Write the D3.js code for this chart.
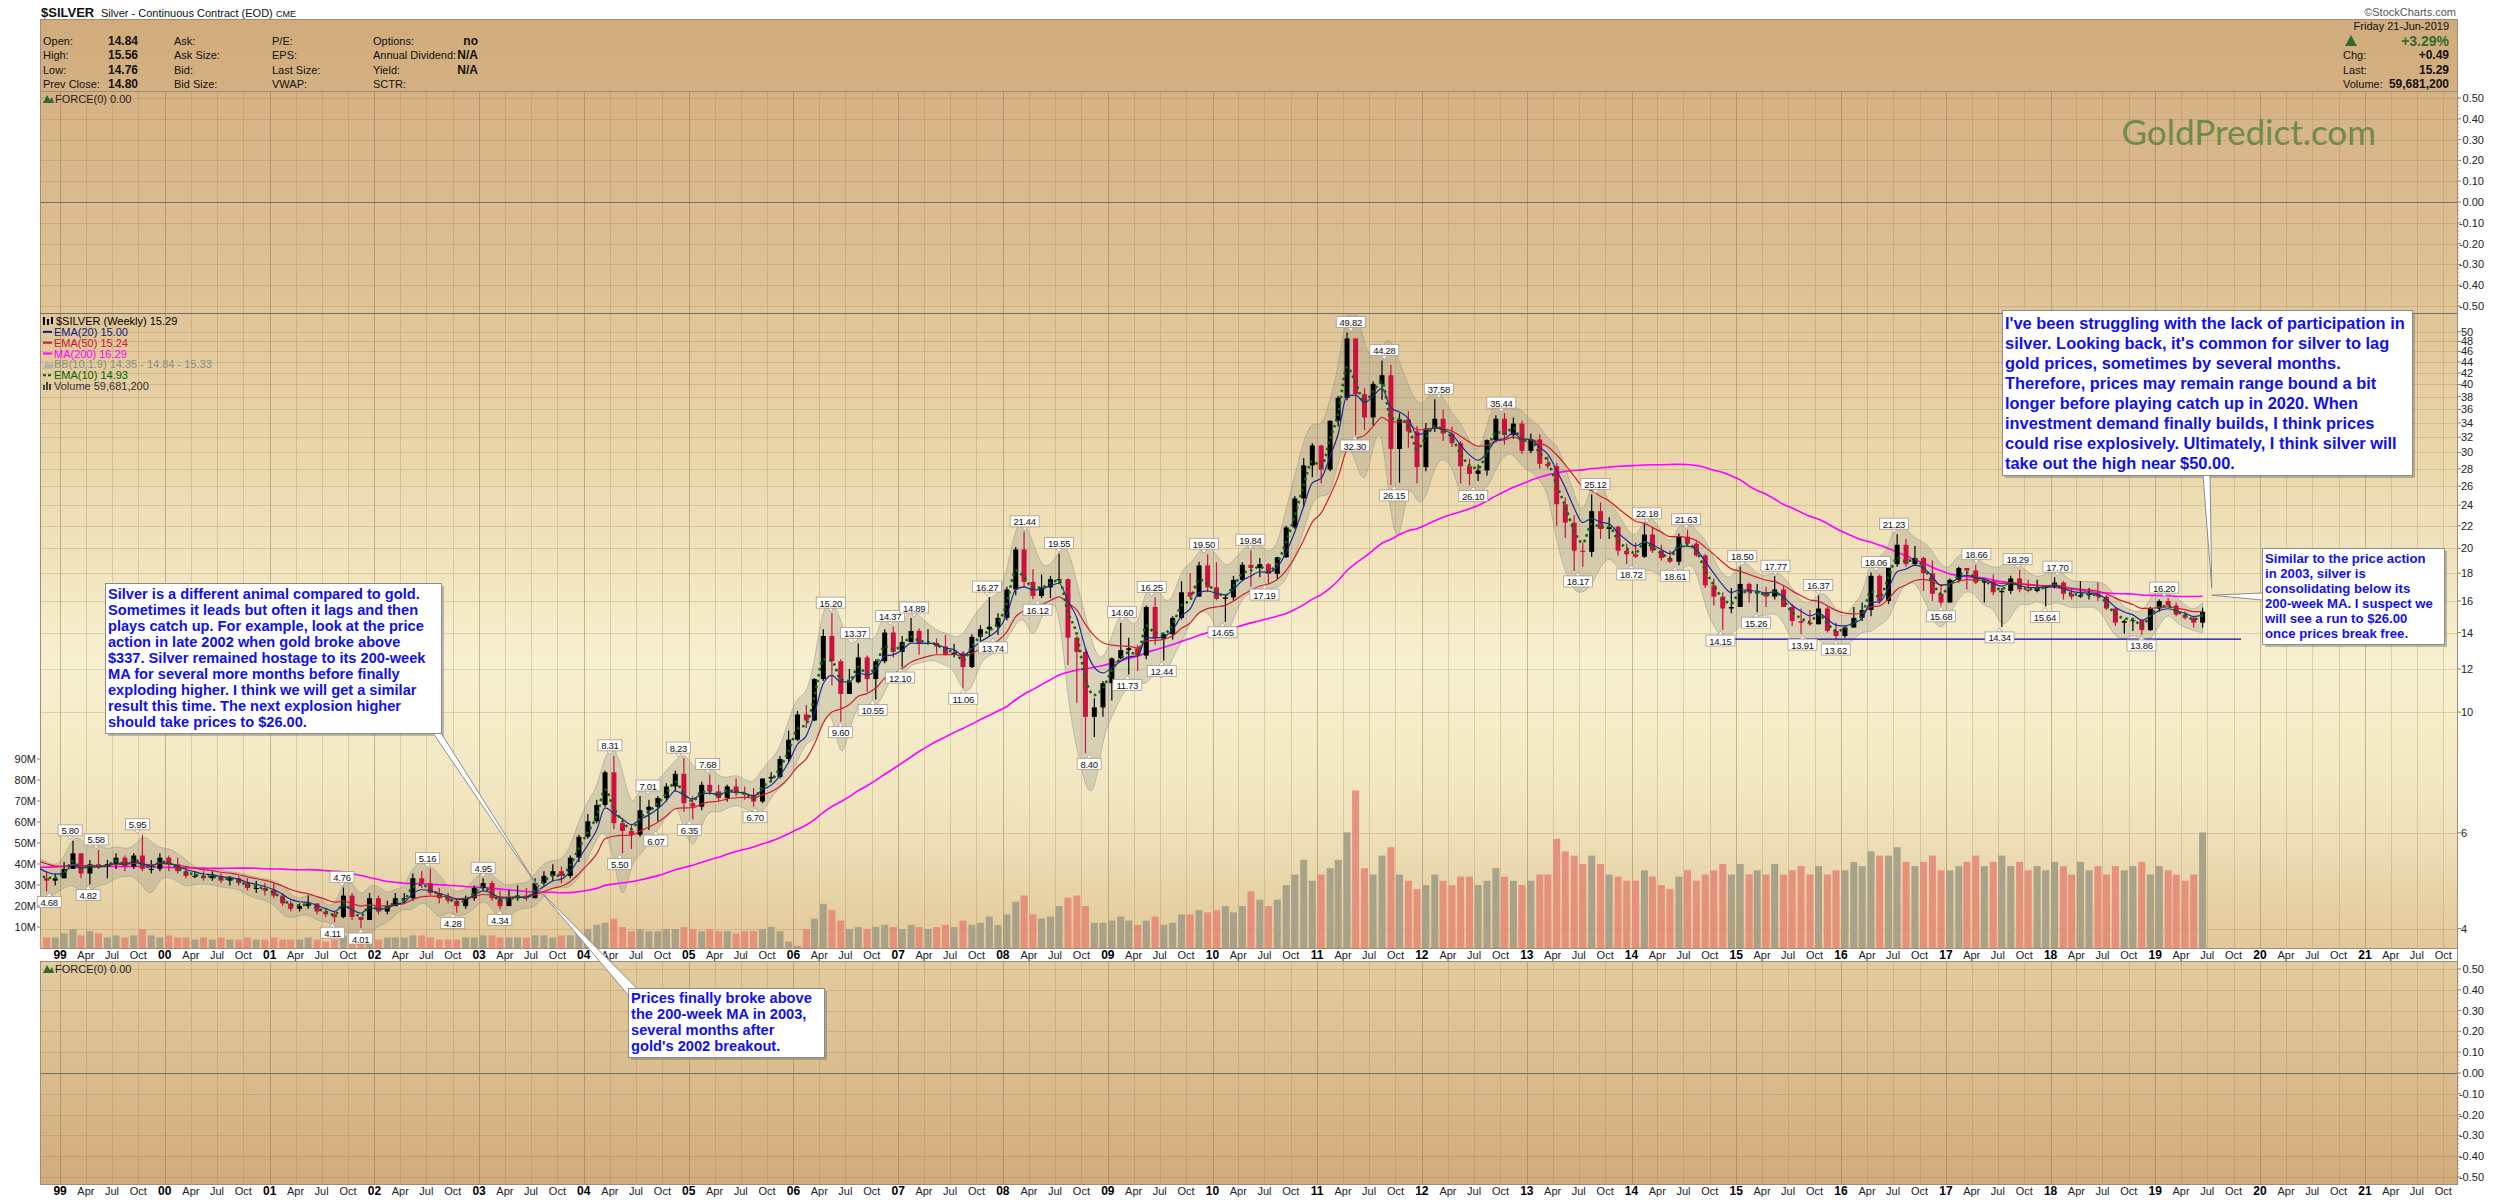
<!DOCTYPE html>
<html><head><meta charset="utf-8">
<script src="https://cdn.jsdelivr.net/npm/d3@7"></script>
<style>body{margin:0;background:#fff}svg{display:block;font-family:"Liberation Sans",Arial,sans-serif}</style>
</head><body><svg id="c" width="2500" height="1200"></svg>
<script>
// ---------------- DATA (monthly) ----------------
const warmupStart = "1995-01";           // closes used only to seed the moving averages
const warmupCloses = [
 4.76,4.63,4.55,5.56,5.25,5.04,5.16,5.37,5.40,5.34,5.33,5.17,
 5.58,5.55,5.52,5.39,5.32,5.09,5.05,5.17,4.94,4.80,4.80,4.78,
 4.77,5.20,4.85,4.67,4.74,4.60,4.34,4.56,5.00,4.80,5.20,5.95,
 5.95,6.50,6.30,6.25,5.30,5.45,5.30,4.95,5.25];
const firstMonth = "1998-10";
const highs = [
 5.30,5.10,5.05,
 5.30,5.80,5.50,5.35,5.58,5.35,5.50,5.45,5.50,5.95,5.35,5.50,
 5.45,5.40,5.20,5.10,5.10,5.10,5.05,5.00,5.00,4.95,4.90,4.85,
 4.85,4.65,4.50,4.45,4.60,4.45,4.35,4.30,4.76,4.65,4.20,4.65,
 4.60,4.50,4.65,4.65,5.05,5.10,5.16,4.75,4.65,4.55,4.60,4.80,
 4.95,4.90,4.70,4.70,4.80,4.75,4.95,5.10,5.25,5.20,5.45,5.95,
 6.50,6.90,7.80,8.31,6.40,6.20,7.01,6.90,7.00,7.40,7.80,8.23,
 7.00,7.45,7.68,7.35,7.35,7.55,7.30,7.25,7.55,7.75,8.30,9.25,
 10.05,10.30,11.55,14.20,15.20,12.50,12.00,13.37,12.70,12.50,14.20,14.37,
 13.80,14.89,14.25,14.20,13.65,13.85,13.35,12.95,13.90,14.45,16.27,15.20,
 17.00,20.10,21.44,18.30,17.90,17.80,19.55,17.60,13.80,13.10,10.60,11.40,
 12.60,14.60,13.70,13.30,15.70,16.25,14.00,15.00,17.40,18.00,18.90,19.50,
 18.85,16.40,17.80,18.85,19.84,19.20,18.80,19.30,22.00,24.95,29.30,31.20,
 31.00,34.40,38.10,49.82,48.60,39.40,40.50,44.28,43.50,35.40,35.70,33.60,
 34.00,37.58,35.90,33.50,31.50,29.20,28.50,31.70,35.10,35.44,34.80,34.30,
 32.50,32.40,29.50,28.70,24.80,23.00,20.50,25.12,24.30,22.80,22.00,20.40,
 20.50,22.18,21.90,20.30,19.80,21.30,21.63,20.60,19.50,17.60,16.60,16.90,
 18.50,17.30,17.20,17.00,17.77,17.10,15.80,15.50,15.40,16.37,15.60,14.60,
 14.40,15.60,15.90,18.06,17.90,18.80,21.23,20.80,20.20,19.30,19.00,17.20,
 17.60,18.50,18.40,18.66,17.50,17.90,16.90,17.80,18.29,17.50,17.50,17.10,
 17.70,17.40,16.90,17.40,16.90,17.30,16.40,15.60,14.80,14.90,14.75,15.60,
 16.10,16.20,15.90,15.30,15.00,15.56];
const lows = [
 4.80,4.68,4.80,
 4.95,5.15,4.95,4.82,5.15,4.95,5.15,5.10,5.15,5.10,5.05,5.10,
 5.10,5.05,4.95,4.95,4.90,4.90,4.85,4.80,4.80,4.70,4.65,4.60,
 4.55,4.40,4.30,4.30,4.35,4.25,4.20,4.11,4.18,4.15,4.01,4.15,
 4.25,4.25,4.40,4.45,4.50,4.75,4.60,4.45,4.45,4.28,4.35,4.50,
 4.70,4.50,4.34,4.40,4.50,4.50,4.55,4.80,4.90,4.85,4.95,5.30,
 5.85,6.25,6.70,6.10,5.50,5.60,5.90,6.07,6.30,6.85,7.15,6.55,
 6.35,6.60,7.05,6.85,6.85,7.00,6.90,6.70,6.80,7.45,7.55,8.10,
 8.85,9.35,9.62,11.40,11.20,9.60,10.80,11.30,10.90,10.55,12.30,12.60,
 12.10,13.45,12.75,13.30,12.80,12.70,12.60,11.06,12.05,13.40,13.74,13.85,
 14.75,16.40,16.90,16.12,16.20,16.20,17.20,12.20,10.40,8.40,9.00,9.80,
 10.50,12.50,11.73,11.90,12.50,13.30,12.44,13.60,14.80,16.20,16.30,16.60,
 16.05,14.65,16.00,17.40,17.00,17.70,17.19,17.50,19.20,21.70,23.90,27.00,
 26.30,27.70,33.50,37.40,32.30,33.00,33.60,37.50,26.15,26.40,30.60,26.30,
 27.70,32.70,31.50,30.70,26.30,26.10,26.60,27.20,31.30,31.00,31.80,29.80,
 29.90,28.00,28.00,22.00,20.90,18.17,18.50,19.30,20.80,20.80,19.40,18.72,
 19.20,19.20,19.60,19.00,18.80,18.61,20.20,19.30,16.90,15.70,14.15,15.20,
 15.60,15.90,15.26,15.60,16.10,15.60,14.40,13.91,14.40,14.50,14.00,13.62,
 13.70,14.30,14.70,15.00,15.80,15.80,18.50,18.50,18.60,16.70,16.00,15.68,
 15.90,17.30,16.80,17.20,15.90,16.40,14.34,16.50,16.60,16.60,16.60,15.64,
 16.90,16.10,16.10,16.20,16.10,16.00,15.40,14.40,13.95,14.10,13.86,14.10,
 15.30,15.70,15.00,14.80,14.30,14.30];
const closes = [
 4.95,4.90,4.95,
 5.15,5.50,5.05,5.25,5.20,5.25,5.40,5.20,5.45,5.15,5.15,5.40,
 5.25,5.10,5.00,5.00,4.95,5.00,4.90,4.95,4.85,4.75,4.75,4.70,
 4.60,4.45,4.35,4.40,4.45,4.30,4.25,4.20,4.60,4.20,4.15,4.55,
 4.30,4.40,4.55,4.55,4.95,4.85,4.65,4.55,4.50,4.40,4.55,4.75,
 4.85,4.55,4.40,4.55,4.60,4.55,4.85,5.00,5.10,5.00,5.40,5.90,
 6.30,6.75,7.75,6.25,6.05,5.95,6.60,6.70,6.95,7.30,7.70,6.80,
 6.70,7.35,7.15,6.95,7.30,7.10,7.05,6.85,7.55,7.60,8.20,8.90,
 9.90,9.65,11.50,13.80,12.40,10.80,11.35,12.60,11.50,12.40,14.00,12.90,
 13.45,14.10,13.35,13.40,13.20,12.75,12.85,12.10,13.75,14.20,14.35,14.90,
 16.80,19.90,17.35,16.35,16.95,17.55,17.55,13.70,12.90,9.80,10.20,11.30,
 12.55,13.00,13.10,12.70,15.60,13.65,13.90,14.90,16.60,16.30,18.60,16.95,
 16.15,16.25,17.50,18.65,18.40,18.70,17.95,19.25,21.85,24.70,28.40,30.90,
 27.90,34.30,37.80,48.60,38.40,34.80,40.10,41.60,30.45,34.50,32.80,28.20,
 33.20,34.60,32.50,31.20,28.30,27.40,27.80,31.60,34.60,32.30,33.90,30.20,
 31.70,28.60,28.30,24.10,22.30,19.80,19.70,23.40,21.70,21.90,19.80,19.50,
 19.30,21.20,19.80,19.20,18.90,21.00,20.40,19.40,17.10,16.30,15.50,15.60,
 17.20,16.60,16.60,16.30,16.80,15.60,14.70,14.60,14.50,15.50,14.10,13.80,
 14.30,14.90,15.40,17.80,16.00,18.70,20.30,18.70,19.20,18.00,16.50,15.90,
 17.50,18.40,18.20,17.30,17.40,16.60,16.70,17.60,16.80,16.70,16.90,17.00,
 17.30,16.50,16.30,16.40,16.50,16.30,15.50,14.60,14.70,14.75,14.15,15.50,
 16.00,15.70,15.10,14.90,14.60,15.29];
// typical weekly volume in each month, millions
const volumesM = [
 6,5,5,
 7,9,6,8,7,5,6,5,6,9,6,5,
 6,5,5,4,5,4,5,4,4,5,4,4,
 5,4,4,4,5,4,3,4,6,5,4,5,
 4,5,5,5,6,6,5,4,4,4,5,5,
 6,6,5,5,5,5,6,6,5,6,6,7,
 9,11,12,14,10,8,9,8,8,9,9,10,
 9,8,9,8,8,7,8,8,9,10,8,3,
 1,9,14,21,18,13,9,10,9,10,11,10,
 9,11,10,9,10,11,10,13,11,12,15,11,
 16,22,25,16,14,15,20,24,25,20,12,12,
 13,15,13,11,13,15,11,12,16,16,18,17,
 18,20,17,20,27,23,20,23,30,35,42,32,
 35,38,42,55,75,38,35,44,48,35,32,28,
 30,35,32,30,34,34,30,32,38,34,32,30,
 32,35,35,52,46,44,40,44,40,35,34,32,
 32,37,34,30,28,34,37,32,35,37,40,35,
 40,35,37,35,40,35,37,39,35,39,35,37,
 37,41,39,46,44,44,48,41,39,41,44,37,
 37,39,41,44,39,41,44,39,41,37,39,37,
 41,39,35,41,37,39,35,39,37,39,41,35,
 39,37,35,32,35,55];
// price labels on swing highs (H) and lows (L)
const swingDates  = ["1998-11-24","1999-02-05","1999-04-09","1999-05-07","1999-09-28","2001-08-08","2001-09-10","2001-11-14","2002-07-05","2002-10-01","2003-01-15","2003-03-14",
 "2004-04-01","2004-05-05","2004-08-12","2004-09-08","2004-11-26","2005-01-03","2005-03-08","2005-08-20","2006-05-11","2006-06-14","2006-08-04","2006-10-04","2006-12-04",
 "2007-01-08","2007-02-26","2007-08-16","2007-11-07","2007-11-27","2008-03-17","2008-05-01","2008-07-15","2008-10-28","2009-02-20","2009-03-10","2009-06-03","2009-07-08",
 "2009-12-02","2010-02-05","2010-05-13","2010-07-01","2011-04-28","2011-05-12","2011-08-23","2011-09-26","2012-02-29","2012-06-28","2012-10-04","2013-06-28","2013-08-28",
 "2013-12-31","2014-02-24","2014-06-02","2014-07-10","2014-11-07","2015-01-22","2015-03-11","2015-05-18","2015-08-20","2015-10-14","2015-12-14","2016-05-02","2016-07-04",
 "2016-12-15","2017-04-17","2017-07-07","2017-09-08","2017-12-12","2018-01-25","2018-11-14","2019-02-01"];
const swingValues = [4.68,5.80,4.82,5.58,5.95,4.11,4.76,4.01,5.16,4.28,4.95,4.34,
 8.31,5.50,7.01,6.07,8.23,6.35,7.68,6.70,15.20,9.60,13.37,10.55,14.37,
 12.10,14.89,11.06,16.27,13.74,21.44,16.12,19.55,8.40,14.60,11.73,16.25,12.44,
 19.50,14.65,19.84,17.19,49.82,32.30,44.28,26.15,37.58,26.10,35.44,18.17,25.12,
 18.72,22.18,18.61,21.63,14.15,18.50,15.26,17.77,13.91,16.37,13.62,18.06,21.23,
 15.68,18.66,14.34,18.29,15.64,17.70,13.86,16.20];
const swingKinds  = ["L","H","L","H","H","L","H","L","H","L","H","L",
 "H","L","H","L","H","L","H","L","H","L","H","L","H",
 "L","H","L","H","L","H","L","H","L","H","L","H","L",
 "H","L","H","L","H","L","H","L","H","L","H","L","H",
 "L","H","L","H","L","H","L","H","L","H","L","H","H",
 "L","H","L","H","L","H","L","H"];
const supportLevel = 13.62, supportFrom = "2014-11-07", supportTo = "2019-10-27";
// tick values / labels
const priceTicks = [4,6,10,12,14,16,18,20,22,24,26,28,30,32,34,36,38,40,42,44,46,48,50];
const volumeTicks = [10,20,30,40,50,60,70,80,90];
const forceTicks = [0.5,0.4,0.3,0.2,0.1,0,-0.1,-0.2,-0.3,-0.4,-0.5];
const monthTickNames = ["Apr","Jul","Oct"];
const headerRows = [["Open:","14.84","Ask:","P/E:","Options:","no"],["High:","15.56","Ask Size:","EPS:","Annual Dividend:","N/A"],["Low:","14.76","Bid:","Last Size:","Yield:","N/A"],["Prev Close:","14.80","Bid Size:","VWAP:","SCTR:",""]];
const legendItems = [["$SILVER (Weekly) 15.29","#000"],["EMA(20) 15.00","#0c1a8a"],["EMA(50) 15.24","#d0103a"],["MA(200) 16.29","#ff00ff"],["BB(10,1.9) 14.35 - 14.84 - 15.33","#8a8e88"],["EMA(10) 14.93","#006400"],["Volume 59,681,200","#333"]];
const noteTopLeft = ["Silver is a different animal compared to gold.","Sometimes it leads but often it lags and then","plays catch up. For example, look at the price","action in late 2002 when gold broke above","$337. Silver remained hostage to its 200-week","MA for several more months before finally","exploding higher. I think we will get a similar","result this time. The next explosion higher","should take prices to $26.00."];
const noteBottom = ["Prices finally broke above","the 200-week MA in 2003,","several months after","gold's 2002 breakout."];
const noteRight = ["I've been struggling with the lack of participation in","silver. Looking back, it's common for silver to lag","gold prices, sometimes by several months.","Therefore, prices may remain range bound a bit","longer before playing catch up in 2020. When","investment demand finally builds, I think prices","could rise explosively. Ultimately, I think silver will","take out the high near $50.00."];
const noteRight2 = ["Similar to the price action","in 2003, silver is","consolidating below its","200-week MA. I suspect we","will see a run to $26.00","once prices break free."];

// ---------------- LAYOUT ----------------
const svg = d3.select('#c');
const L = 40, R = 2457, HEAD_T = 19, HEAD_B = 91, TOP_B = 313, MAIN_B = 948, AX1_B = 961, LOW_B = 1184, AX2_B = 1197;
const pd = d3.timeParse('%Y-%m-%d');
const [fy, fm] = firstMonth.split('-').map(Number);
const monthDate = i => new Date(fy, fm - 1 + i, 15);
const x = d3.scaleTime().domain([new Date(1998, 9, 23), new Date(2021, 10, 18)]).range([L, R]);
const y = d3.scaleLog().domain([3.685, 54.13]).range([MAIN_B, TOP_B]);
const yv = d3.scaleLinear().domain([0, 90]).range([MAIN_B, 759]);
const yfTop = d3.scaleLinear().domain([-0.5, 0.5]).range([306, 98]);
const yfLow = d3.scaleLinear().domain([-0.5, 0.5]).range([1177, 969]);

const defs = svg.append('defs');
function lg(id, stops) { const l = defs.append('linearGradient').attr('id', id).attr('x1', 0).attr('y1', 0).attr('x2', 0).attr('y2', 1); stops.forEach(([o, c]) => l.append('stop').attr('offset', o).attr('stop-color', c)); }
lg('gHead', [[0, '#D1AB7B'], [1, '#D4B182']]);
lg('gTop', [[0, '#D5B283'], [1, '#DFC597']]);
lg('gMain', [[0, '#DFC597'], [0.3, '#EDDDB2'], [0.55, '#F7F0D0'], [0.78, '#F1E5BF'], [1, '#E1C898']]);
lg('gLow', [[0, '#E3CC9F'], [1, '#D1AC7B']]);
defs.append('clipPath').attr('id', 'clipMain').append('rect').attr('x', L).attr('y', TOP_B).attr('width', R - L).attr('height', MAIN_B - TOP_B);

// panels
svg.append('rect').attr('x', L).attr('y', HEAD_T).attr('width', R - L).attr('height', HEAD_B - HEAD_T).attr('fill', 'url(#gHead)');
svg.append('rect').attr('x', L).attr('y', HEAD_B).attr('width', R - L).attr('height', TOP_B - HEAD_B).attr('fill', 'url(#gTop)');
svg.append('rect').attr('x', L).attr('y', TOP_B).attr('width', R - L).attr('height', MAIN_B - TOP_B).attr('fill', 'url(#gMain)');
svg.append('rect').attr('x', L).attr('y', AX1_B).attr('width', R - L).attr('height', LOW_B - AX1_B).attr('fill', 'url(#gLow)');

// grid
const quarters = d3.timeMonth.every(3).range(new Date(1999, 0, 1), new Date(2021, 11, 1));
const grid = svg.append('g');
[[HEAD_B, TOP_B], [TOP_B, MAIN_B], [AX1_B, LOW_B]].forEach(([a, b]) => {
  quarters.forEach(d => {
    const xx = Math.round(x(d)) + 0.5;
    grid.append('line').attr('x1', xx).attr('x2', xx).attr('y1', a).attr('y2', b)
      .attr('stroke', d.getMonth() === 0 ? 'rgba(140,100,60,0.42)' : 'rgba(150,110,65,0.24)').attr('stroke-width', 1);
  });
});
forceTicks.forEach(v => {
  [yfTop, yfLow].forEach(s => grid.append('line').attr('x1', L).attr('x2', R).attr('y1', Math.round(s(v)) + 0.5).attr('y2', Math.round(s(v)) + 0.5)
    .attr('stroke', v === 0 ? '#6f6f6f' : 'rgba(150,110,65,0.24)').attr('stroke-width', 1));
});
priceTicks.forEach(v => grid.append('line').attr('x1', L).attr('x2', R).attr('y1', Math.round(y(v)) + 0.5).attr('y2', Math.round(y(v)) + 0.5)
  .attr('stroke', 'rgba(150,110,65,0.24)'));

// borders
const bord = svg.append('g').attr('fill', 'none').attr('stroke', '#a48b78');
bord.append('rect').attr('x', L + 0.5).attr('y', HEAD_T + 0.5).attr('width', R - L).attr('height', HEAD_B - HEAD_T);
bord.append('rect').attr('x', L + 0.5).attr('y', HEAD_B + 0.5).attr('width', R - L).attr('height', TOP_B - HEAD_B);
bord.append('rect').attr('x', L + 0.5).attr('y', TOP_B + 0.5).attr('width', R - L).attr('height', MAIN_B - TOP_B);
bord.append('rect').attr('x', L + 0.5).attr('y', AX1_B + 0.5).attr('width', R - L).attr('height', LOW_B - AX1_B);
svg.append('line').attr('x1', L).attr('x2', R).attr('y1', TOP_B + 0.5).attr('y2', TOP_B + 0.5).attr('stroke', '#6c7070');

// ---------------- SERIES ----------------
const data = highs.map((h, i) => ({ date: monthDate(i), o: i ? closes[i - 1] : warmupCloses[warmupCloses.length - 1], h, l: lows[i], c: closes[i], v: volumesM[i] }));
const all = warmupCloses.concat(closes), off = warmupCloses.length;
function ema(alpha) { let e = all[0]; return all.map(v => (e = e + alpha * (v - e))); }
const e10 = ema(0.582), e20 = ema(0.353), e50 = ema(0.160);
const ma200 = all.map((v, i) => i >= 45 ? d3.mean(all.slice(i - 45, i + 1)) : null);
const ser = arr => data.map((d, i) => ({ date: d.date, v: arr[off + i] }));
const bb = data.map((d, i) => {
  const p = i ? data[i - 1] : d;
  const vals = [d.h, d.l, d.c, p.h, p.l, p.c];
  const mid = (d.c + p.c + (d.h + d.l) / 2) / 3, sd = d3.deviation(vals);
  return { date: d.date, up: mid + 1.9 * 0.95 * sd, lo: Math.max(3.7, mid - 1.9 * 0.95 * sd) };
});

const plot = svg.append('g').attr('clip-path', 'url(#clipMain)');
// volume
plot.append('g').selectAll('rect').data(data).join('rect')
  .attr('x', d => x(d.date) - 3.5).attr('width', 7)
  .attr('y', d => yv(d.v)).attr('height', d => MAIN_B - yv(d.v))
  .attr('fill', d => d.c >= d.o ? '#a29c86' : '#e58a77').attr('opacity', 0.9);
// bollinger band
plot.append('path').datum(bb).attr('fill', 'rgba(140,140,128,0.28)').attr('stroke', 'rgba(140,140,128,0.45)').attr('stroke-width', 1)
  .attr('d', d3.area().curve(d3.curveBasis).x(d => x(d.date)).y0(d => y(d.lo)).y1(d => y(d.up)));
const line = d3.line().curve(d3.curveMonotoneX).defined(d => d.v != null).x(d => x(d.date)).y(d => y(d.v));
plot.append('path').datum(ser(ma200)).attr('fill', 'none').attr('stroke', '#ff00ff').attr('stroke-width', 1.6).attr('d', line);
// candles
const cg = plot.append('g');
cg.selectAll('line').data(data).join('line')
  .attr('x1', d => x(d.date)).attr('x2', d => x(d.date)).attr('y1', d => y(d.h)).attr('y2', d => y(d.l))
  .attr('stroke', d => d.c >= d.o ? '#000' : '#cc1040').attr('stroke-width', 1.2);
cg.selectAll('rect').data(data).join('rect')
  .attr('x', d => x(d.date) - 2.5).attr('width', 5)
  .attr('y', d => y(Math.max(d.o, d.c))).attr('height', d => Math.max(1, y(Math.min(d.o, d.c)) - y(Math.max(d.o, d.c))))
  .attr('fill', d => d.c >= d.o ? '#000' : '#cc1040');
plot.append('path').datum(ser(e50)).attr('fill', 'none').attr('stroke', '#d0202f').attr('stroke-width', 1.2).attr('d', line);
plot.append('path').datum(ser(e20)).attr('fill', 'none').attr('stroke', '#1a2a9a').attr('stroke-width', 1.2).attr('d', line);
plot.append('path').datum(ser(e10)).attr('fill', 'none').attr('stroke', '#0a6a0a').attr('stroke-width', 2.6).attr('stroke-dasharray', '2.5,3.5').attr('d', line);
// support line
svg.append('line').attr('x1', x(pd(supportFrom))).attr('x2', x(pd(supportTo))).attr('y1', y(supportLevel)).attr('y2', y(supportLevel))
  .attr('stroke', '#0000cc').attr('stroke-width', 1.3);

// swing labels
const sl = svg.append('g').attr('font-size', 9.5).attr('fill', '#111');
swingDates.forEach((ds, i) => {
  const xx = x(pd(ds)), yy = y(swingValues[i]), hi = swingKinds[i] === 'H';
  const t = swingValues[i].toFixed(2);
  const w = t.length * 5 + 4, hgt = 11;
  const top = hi ? yy - 5 - hgt : yy + 5;
  const gg = sl.append('g');
  gg.append('path').attr('d', hi ? `M${xx - 3},${top + hgt}L${xx},${yy - 1}L${xx + 3},${top + hgt}Z` : `M${xx - 3},${top}L${xx},${yy + 1}L${xx + 3},${top}Z`)
    .attr('fill', '#fff').attr('stroke', '#a89a88').attr('stroke-width', 0.8);
  gg.append('rect').attr('x', xx - w / 2).attr('y', top).attr('width', w).attr('height', hgt).attr('fill', '#fff').attr('stroke', '#a89a88').attr('stroke-width', 0.8);
  gg.append('text').attr('x', xx).attr('y', top + hgt / 2 + 0.5).attr('text-anchor', 'middle').attr('dominant-baseline', 'central').attr('letter-spacing', -0.3).text(t);
});

// ---------------- AXES ----------------
const ax = svg.append('g').attr('font-size', 11).attr('fill', '#222');
svg.append('line').attr('x1', R + 0.5).attr('x2', R + 0.5).attr('y1', HEAD_B).attr('y2', LOW_B).attr('stroke', '#a48b78');
[yfTop, yfLow].forEach(s => {
  forceTicks.forEach(v => {
    ax.append('line').attr('x1', R).attr('x2', R + 4).attr('y1', s(v)).attr('y2', s(v)).attr('stroke', '#8a7666');
    ax.append('text').attr('x', 2484).attr('y', s(v)).attr('text-anchor', 'end').attr('dominant-baseline', 'central').text(d3.format('.2f')(v).replace('−', '-'));
  });
  d3.range(-0.5, 0.501, 0.02).forEach(v => ax.append('line').attr('x1', R).attr('x2', R + 2).attr('y1', s(v)).attr('y2', s(v)).attr('stroke', '#b09a88'));
});
priceTicks.forEach(v => {
  ax.append('line').attr('x1', R).attr('x2', R + 4).attr('y1', y(v)).attr('y2', y(v)).attr('stroke', '#8a7666');
  ax.append('text').attr('x', 2461).attr('y', y(v)).attr('dominant-baseline', 'central').text(v);
});
volumeTicks.forEach(v => {
  ax.append('line').attr('x1', L - 3).attr('x2', L).attr('y1', yv(v)).attr('y2', yv(v)).attr('stroke', '#8a7666');
  ax.append('text').attr('x', 36).attr('y', yv(v)).attr('text-anchor', 'end').attr('dominant-baseline', 'central').text(v + 'M');
});
[955, 1191].forEach(ty => {
  quarters.forEach(d => {
    const yr = d.getMonth() === 0;
    ax.append('text').attr('x', x(d)).attr('y', ty).attr('text-anchor', 'middle').attr('dominant-baseline', 'central')
      .attr('font-weight', yr ? 'bold' : 'normal').attr('font-size', yr ? 12 : 11).attr('fill', yr ? '#000' : '#222')
      .text(yr ? d3.timeFormat('%y')(d) : monthTickNames[d.getMonth() / 3 - 1]);
  });
});

// ---------------- HEADER ----------------
const hd = svg.append('g').attr('fill', '#111');
hd.append('text').attr('x', 41).attr('y', 17).attr('font-weight', 'bold').attr('font-size', 13).text('$SILVER');
hd.append('text').attr('x', 101).attr('y', 16.5).attr('font-size', 11).text('Silver - Continuous Contract (EOD)');
hd.append('text').attr('x', 276).attr('y', 16.5).attr('font-size', 9).text('CME');
const rowY = [41, 55, 70, 84];
headerRows.forEach((r, i) => {
  const yy = rowY[i];
  hd.append('text').attr('x', 43).attr('y', yy).attr('dominant-baseline', 'central').attr('font-size', 11).text(r[0]);
  hd.append('text').attr('x', 108).attr('y', yy).attr('dominant-baseline', 'central').attr('font-size', 12).attr('font-weight', 'bold').text(r[1]);
  hd.append('text').attr('x', 174).attr('y', yy).attr('dominant-baseline', 'central').attr('font-size', 11).text(r[2]);
  hd.append('text').attr('x', 272).attr('y', yy).attr('dominant-baseline', 'central').attr('font-size', 11).text(r[3]);
  hd.append('text').attr('x', 373).attr('y', yy).attr('dominant-baseline', 'central').attr('font-size', 11).text(r[4]);
  hd.append('text').attr('x', 478).attr('y', yy).attr('text-anchor', 'end').attr('dominant-baseline', 'central').attr('font-size', 12).attr('font-weight', 'bold').text(r[5]);
});
hd.append('text').attr('x', 2456).attr('y', 12).attr('text-anchor', 'end').attr('dominant-baseline', 'central').attr('font-size', 11).attr('fill', '#555').text('\u00A9StockCharts.com');
hd.append('text').attr('x', 2449).attr('y', 26).attr('text-anchor', 'end').attr('dominant-baseline', 'central').attr('font-size', 11).text('Friday  21-Jun-2019');
hd.append('path').attr('d', 'M2345,46L2351,35L2357,46Z').attr('fill', '#2f6b2f');
hd.append('text').attr('x', 2449).attr('y', 41).attr('text-anchor', 'end').attr('dominant-baseline', 'central').attr('font-size', 14).attr('font-weight', 'bold').attr('fill', '#2f6b2f').text('+3.29%');
[['Chg:', '+0.49', 55], ['Last:', '15.29', 70], ['Volume:', '59,681,200', 84]].forEach(([a, b, yy]) => {
  hd.append('text').attr('x', 2343).attr('y', yy).attr('dominant-baseline', 'central').attr('font-size', 11).text(a);
  hd.append('text').attr('x', 2449).attr('y', yy).attr('text-anchor', 'end').attr('dominant-baseline', 'central').attr('font-size', 12).attr('font-weight', 'bold').text(b);
});
// FORCE labels
[99, 969].forEach(yy => {
  svg.append('path').attr('d', `M43,${yy + 4}L47,${yy - 4}L50,${yy + 1}L52,${yy - 2}L54,${yy + 4}Z`).attr('fill', '#2f6b2f');
  svg.append('text').attr('x', 55).attr('y', yy).attr('dominant-baseline', 'central').attr('font-size', 11).attr('fill', '#222').text('FORCE(0) 0.00');
});
// watermark
svg.append('text').attr('x', 2376).attr('y', 145).attr('text-anchor', 'end').attr('font-family', 'Lato, "Open Sans", sans-serif').attr('font-size', 35).attr('fill', '#6e8a4c').text('GoldPredict.com');

// legend
const lgG = svg.append('g').attr('font-size', 11);
legendItems.forEach(([t, c], i) => {
  const yy = 321 + i * 10.85;
  if (i === 0) lgG.append('path').attr('d', `M43,${yy - 4}h2v8h-2zM47,${yy - 2}h2v6h-2zM51,${yy - 4}h2v7h-2z`).attr('fill', '#000');
  else if (i === 4) lgG.append('path').attr('d', `M43,${yy + 4}L47,${yy - 4}L50,${yy + 1}L52,${yy - 2}L54,${yy + 4}Z`).attr('fill', '#b0b0a8');
  else if (i === 6) lgG.append('path').attr('d', `M43,${yy - 1}h2v5h-2zM46,${yy - 4}h2v8h-2zM49,${yy - 2}h2v6h-2z`).attr('fill', '#444');
  else lgG.append('line').attr('x1', 43).attr('x2', 52).attr('y1', yy).attr('y2', yy).attr('stroke', c).attr('stroke-width', 2).attr('stroke-dasharray', i === 5 ? '3,2' : null);
  lgG.append('text').attr('x', i === 0 ? 56 : 54).attr('y', yy).attr('dominant-baseline', 'central').attr('fill', c).text(t);
});

// ---------------- CALLOUTS ----------------
function callout(cfg) {
  const G = svg.append('g');
  const [bx, by, bw, bh] = cfg.box;
  const tip = [x(pd(cfg.tipDate)), y(cfg.tipPrice)];
  G.append('rect').attr('x', bx + 3).attr('y', by + 3).attr('width', bw).attr('height', bh).attr('fill', '#707070').attr('opacity', 0.45);
  G.append('polygon').attr('points', [cfg.base[0], tip, cfg.base[1]].map(p => p.join(',')).join(' ')).attr('fill', '#fff').attr('stroke', '#8c8c8c');
  G.append('rect').attr('x', bx + 0.5).attr('y', by + 0.5).attr('width', bw).attr('height', bh).attr('fill', '#fff').attr('stroke', '#8c8c8c');
  const tg = G.append('g');
  cfg.lines.forEach((t, i) => tg.append('text').attr('x', 0).attr('y', cfg.y0 + i * cfg.step).attr('dominant-baseline', 'central')
    .attr('font-size', cfg.fs).attr('font-weight', 'bold').attr('fill', '#1010ee').text(t));
  let mw = 0; tg.selectAll('text').each(function () { mw = Math.max(mw, this.getComputedTextLength()); });
  const sx = Math.max(0.75, Math.min(1.15, cfg.tw / mw));
  tg.attr('transform', `translate(${cfg.tx},0) scale(${sx},1)`);
}
callout({ box: [105, 583, 336, 150], lines: noteTopLeft, fs: 14, y0: 594, step: 16, tx: 108, tw: 318, base: [[433, 733], [441, 733]], tipDate: '2003-08-08', tipPrice: 4.65 });
callout({ box: [628, 988, 196, 69], lines: noteBottom, fs: 14, y0: 998.5, step: 16, tx: 631, tw: 181, base: [[629, 996], [637, 988.5]], tipDate: '2003-08-08', tipPrice: 4.65 });
callout({ box: [2002, 310, 410, 165], lines: noteRight, fs: 16, y0: 323, step: 20, tx: 2005, tw: 400, base: [[2203, 475], [2210, 475]], tipDate: '2019-07-17', tipPrice: 16.9 });
callout({ box: [2262, 548, 182, 96], lines: noteRight2, fs: 13.5, y0: 558, step: 15, tx: 2265, tw: 168, base: [[2262.5, 593], [2262.5, 600]], tipDate: '2019-07-17', tipPrice: 16.4 });
</script></body></html>
